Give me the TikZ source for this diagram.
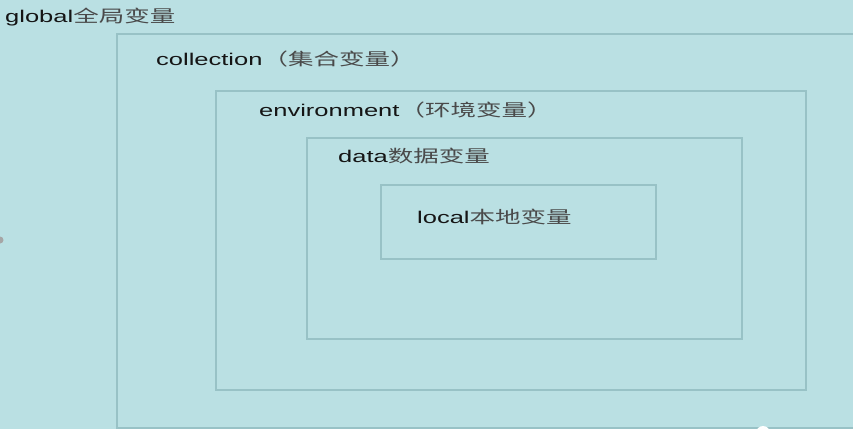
\documentclass[tikz,border=0pt]{standalone}
\usepackage{fontspec}
\setmainfont{Liberation Sans}[FakeStretch=1.5]
\newfontfamily\cjk{Noto Sans CJK SC}[FakeStretch=1.5]
\definecolor{bg}{HTML}{BAE0E3}
\definecolor{bd}{HTML}{98C2C6}
\definecolor{tx}{HTML}{151515}
\definecolor{cj}{HTML}{4A4A4A}
\newcommand{\zh}[1]{{\cjk\color{cj}#1}}
\begin{document}
\begin{tikzpicture}[x=1pt,y=-1pt,
  frame/.style={draw=bd, line width=1.8pt, rectangle, inner sep=0pt, anchor=north west},
  lbl/.style={anchor=base west, inner sep=0pt, font=\fontsize{17}{20}\selectfont, text=tx}]
\clip (0,0) rectangle (853,429);
\fill[bg] (0,0) rectangle (853,429);
\useasboundingbox (0,0) rectangle (853,429);
% nested frames
\node[frame, minimum width=754pt, minimum height=394pt] (coll) at (116,33) {};
\node[frame, minimum width=590pt, minimum height=299pt] (env) at (215,90) {};
\node[frame, minimum width=435pt, minimum height=201pt] (data) at (306,137) {};
\node[frame, minimum width=275pt, minimum height=74pt] (local) at (380,184) {};
% labels
\node[lbl] (tglobal) at (5,22) {global\zh{全局变量}};
\node[lbl] (tcoll) at (156,65) {collection\zh{（集合变量）}};
\node[lbl] (tenv) at (259,116) {environment\zh{（环境变量）}};
\node[lbl] (tdata) at (338,162) {data\zh{数据变量}};
\node[lbl] (tlocal) at (417,223) {local\zh{本地变量}};
% small marks at the edges
\fill[gray!70] (0,240) circle (3.5);
\fill[white] (763,433) circle (7);
\end{tikzpicture}
\end{document}
